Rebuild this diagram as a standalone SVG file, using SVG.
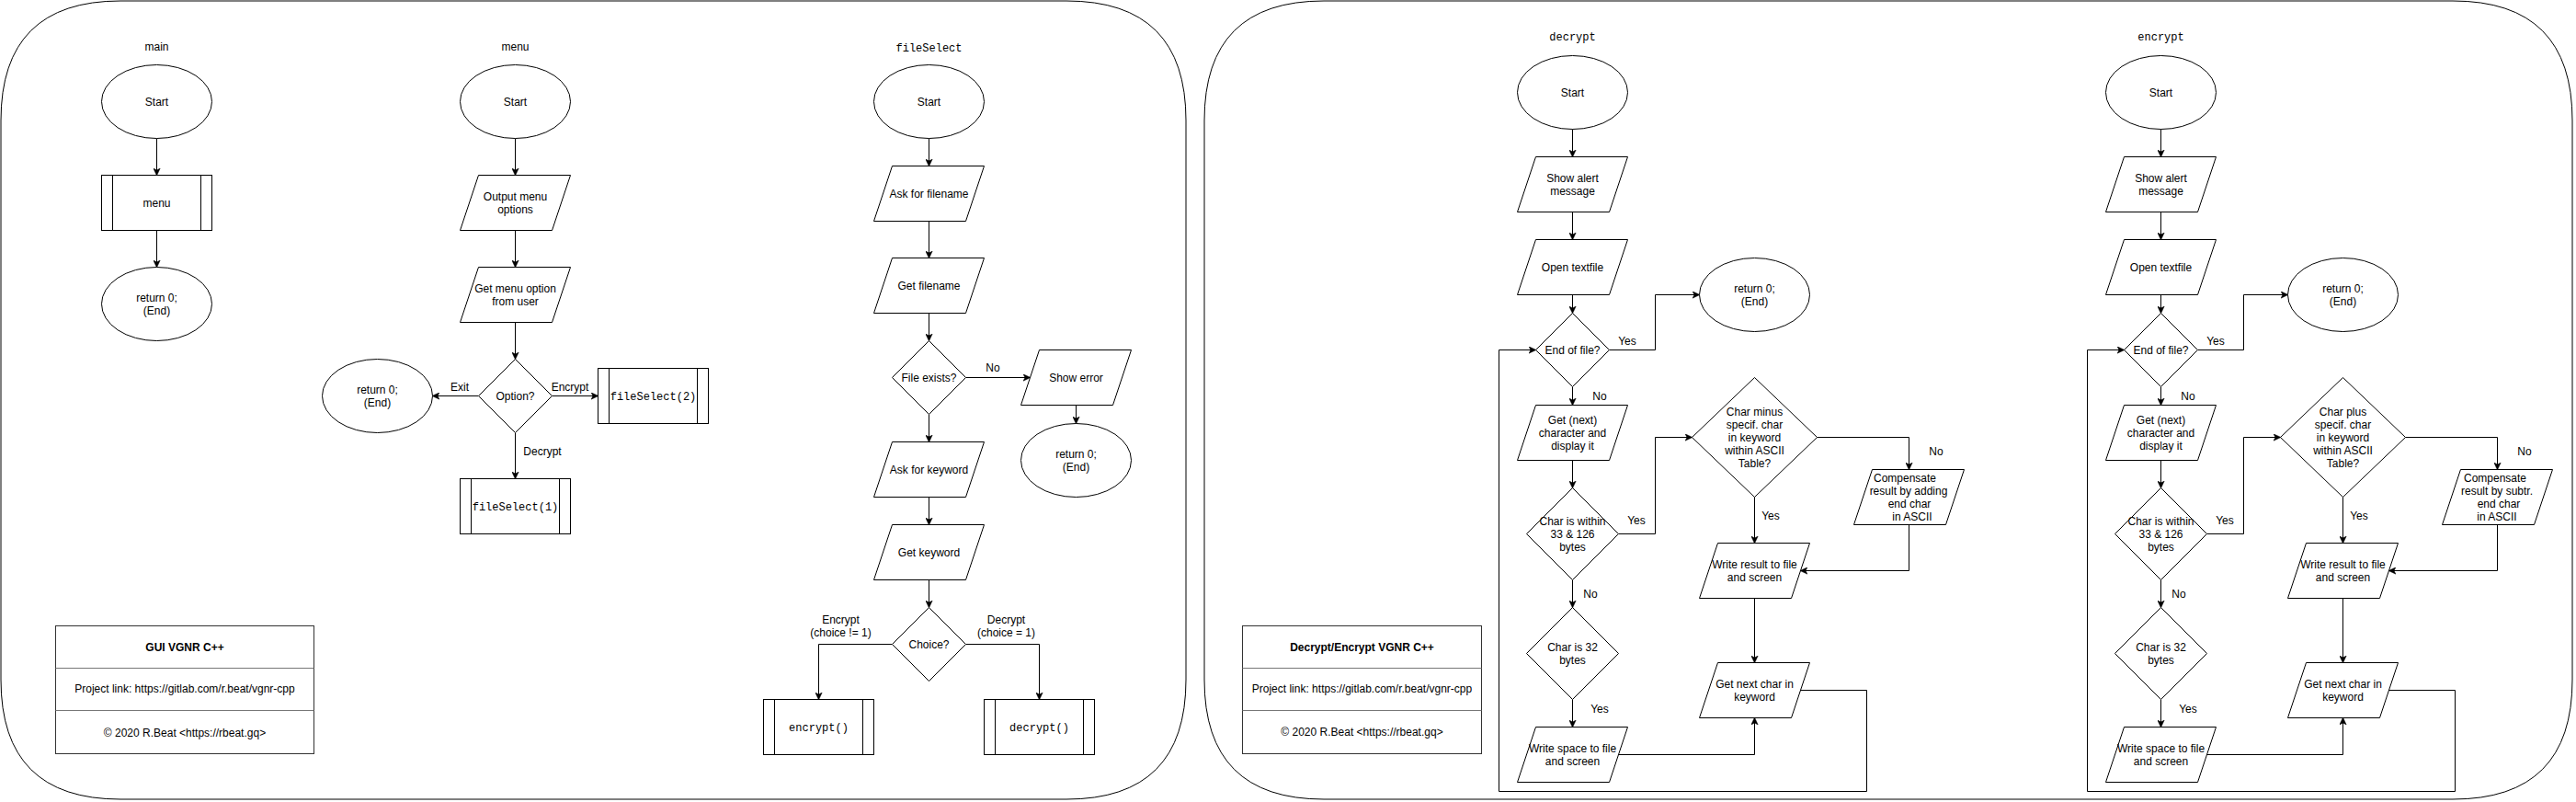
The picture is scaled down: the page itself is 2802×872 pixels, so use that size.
<svg xmlns="http://www.w3.org/2000/svg" width="2802" height="872" viewBox="0 0 2802 872">
<style>
.s{fill:#fff;stroke:#000;stroke-width:1}
.c{fill:none;stroke:#000;stroke-width:1}
.a{fill:none;stroke:#000;stroke-width:1;marker-end:url(#arr)}
.t{font-family:"Liberation Sans",Arial,Helvetica,sans-serif;font-size:12px;fill:#000;text-anchor:middle}
.m{font-family:"Liberation Mono","Courier New",monospace;font-size:12px;fill:#000;text-anchor:middle}
.b{font-weight:bold}
.d{fill:none;stroke:#777;stroke-width:1}
</style>
<defs>
<marker id="arr" markerUnits="userSpaceOnUse" viewBox="0 0 8 8" refX="7.5" refY="4" markerWidth="8" markerHeight="8" orient="auto">
<path d="M0,0.3 L8,4 L0,7.7 L2,4 Z" fill="#000" stroke="#000" stroke-width="0.5"/>
</marker>
</defs>
<rect x="0" y="0" width="2802" height="872" fill="#fff"/>

<g id="containers">
<path class="c" d="M131,1 H1160 Q1290,1 1290,131 V739 Q1290,869 1160,869 H131 Q1,869 1,739 V131 Q1,1 131,1 Z"/>
<path class="c" d="M1440,1 H2668 Q2798,1 2798,131 V739 Q2798,869 2668,869 H1440 Q1310,869 1310,739 V131 Q1310,1 1440,1 Z"/>
</g>

<g id="connectors">
<path class="a" d="M170.5,150.5V190.5"/>
<path class="a" d="M170.5,250.5V290.5"/>
<path class="a" d="M560.5,150.5V190.5"/>
<path class="a" d="M560.5,250.5V290.5"/>
<path class="a" d="M560.5,350.5V390.5"/>
<path class="a" d="M520.5,430.5H470.5"/>
<path class="a" d="M600.5,430.5H650.5"/>
<path class="a" d="M560.5,470.5V520.5"/>
<path class="a" d="M1010.5,150.5V180.5"/>
<path class="a" d="M1010.5,240.5V280.5"/>
<path class="a" d="M1010.5,340.5V370.5"/>
<path class="a" d="M1050.5,410.5H1120.5"/>
<path class="a" d="M1170.5,440.5V460.5"/>
<path class="a" d="M1010.5,450.5V480.5"/>
<path class="a" d="M1010.5,540.5V570.5"/>
<path class="a" d="M1010.5,630.5V660.5"/>
<path class="a" d="M970.5,700.5H890.5V760.5"/>
<path class="a" d="M1050.5,700.5H1130.5V760.5"/>
<path class="a" d="M1710.5,140.5V170.5"/>
<path class="a" d="M1710.5,230.5V260.5"/>
<path class="a" d="M1710.5,320.5V340.5"/>
<path class="a" d="M1750.5,380.5H1800.5V320.5H1848.5"/>
<path class="a" d="M1710.5,420.5V440.5"/>
<path class="a" d="M1710.5,500.5V530.5"/>
<path class="a" d="M1760.5,580.5H1800.5V475.5H1840.5"/>
<path class="a" d="M1976.5,475.5H2076.5V510.5"/>
<path class="a" d="M2076.5,570.5V620.5H1958.5"/>
<path class="a" d="M1908.5,540.5V590.5"/>
<path class="a" d="M1908.5,650.5V720.5"/>
<path class="a" d="M1958.5,750.5H2030.5V860.5H1630.5V380.5H1670.5"/>
<path class="a" d="M1710.5,630.5V660.5"/>
<path class="a" d="M1710.5,760.5V790.5"/>
<path class="a" d="M1760.5,820.5H1908.5V780.5"/>
<path class="a" d="M2350.5,140.5V170.5"/>
<path class="a" d="M2350.5,230.5V260.5"/>
<path class="a" d="M2350.5,320.5V340.5"/>
<path class="a" d="M2390.5,380.5H2440.5V320.5H2488.5"/>
<path class="a" d="M2350.5,420.5V440.5"/>
<path class="a" d="M2350.5,500.5V530.5"/>
<path class="a" d="M2400.5,580.5H2440.5V475.5H2480.5"/>
<path class="a" d="M2616.5,475.5H2716.5V510.5"/>
<path class="a" d="M2716.5,570.5V620.5H2598.5"/>
<path class="a" d="M2548.5,540.5V590.5"/>
<path class="a" d="M2548.5,650.5V720.5"/>
<path class="a" d="M2598.5,750.5H2670.5V860.5H2270.5V380.5H2310.5"/>
<path class="a" d="M2350.5,630.5V660.5"/>
<path class="a" d="M2350.5,760.5V790.5"/>
<path class="a" d="M2400.5,820.5H2548.5V780.5"/>
<g id="connector-labels">
<text class="t" x="500" y="425">Exit</text>
<text class="t" x="620" y="425">Encrypt</text>
<text class="t" x="590" y="495">Decrypt</text>
<text class="t" x="1080" y="404">No</text>
<text class="t" x="914.5" y="678">Encrypt</text>
<text class="t" x="914.5" y="692">(choice != 1)</text>
<text class="t" x="1094.5" y="678">Decrypt</text>
<text class="t" x="1094.5" y="692">(choice = 1)</text>
<text class="t" x="1770" y="375">Yes</text>
<text class="t" x="1740" y="435">No</text>
<text class="t" x="1780" y="570">Yes</text>
<text class="t" x="2106" y="495">No</text>
<text class="t" x="1926" y="565">Yes</text>
<text class="t" x="1730" y="650">No</text>
<text class="t" x="1740" y="775">Yes</text>
<text class="t" x="2410" y="375">Yes</text>
<text class="t" x="2380" y="435">No</text>
<text class="t" x="2420" y="570">Yes</text>
<text class="t" x="2746" y="495">No</text>
<text class="t" x="2566" y="565">Yes</text>
<text class="t" x="2370" y="650">No</text>
<text class="t" x="2380" y="775">Yes</text>
</g>
</g>

<!-- main -->
<g id="main-title"><text class="t" x="170.5" y="55">main</text></g>
<g id="main-start"><ellipse class="s" cx="170.5" cy="110.5" rx="60" ry="40"/><text class="t" x="170.5" y="114.5">Start</text></g>
<g id="main-menu"><rect class="s" x="110.5" y="190.5" width="120" height="60"/><path class="c" d="M122.5,190.5V250.5M218.5,190.5V250.5"/><text class="t" x="170.5" y="224.5">menu</text></g>
<g id="main-end"><ellipse class="s" cx="170.5" cy="330.5" rx="60" ry="40"/><text class="t"><tspan x="170.5" y="327.5">return 0;</tspan><tspan x="170.5" y="341.5">(End)</tspan></text></g>

<!-- menu -->
<g id="menu-title"><text class="t" x="560.5" y="55">menu</text></g>
<g id="menu-start"><ellipse class="s" cx="560.5" cy="110.5" rx="60" ry="40"/><text class="t" x="560.5" y="114.5">Start</text></g>
<g id="menu-output"><polygon class="s" points="520.5,190.5 620.5,190.5 600.5,250.5 500.5,250.5"/><text class="t"><tspan x="560.5" y="217.5">Output menu</tspan><tspan x="560.5" y="231.5">options</tspan></text></g>
<g id="menu-get"><polygon class="s" points="520.5,290.5 620.5,290.5 600.5,350.5 500.5,350.5"/><text class="t"><tspan x="560.5" y="317.5">Get menu option</tspan><tspan x="560.5" y="331.5">from user</tspan></text></g>
<g id="menu-option"><polygon class="s" points="560.5,390.5 600.5,430.5 560.5,470.5 520.5,430.5"/><text class="t" x="560.5" y="434.5">Option?</text></g>
<g id="menu-end"><ellipse class="s" cx="410.5" cy="430.5" rx="60" ry="40"/><text class="t"><tspan x="410.5" y="427.5">return 0;</tspan><tspan x="410.5" y="441.5">(End)</tspan></text></g>
<g id="menu-fs2"><rect class="s" x="650.5" y="400.5" width="120" height="60"/><path class="c" d="M662.5,400.5V460.5M758.5,400.5V460.5"/><text class="m" x="710.5" y="434.5">fileSelect(2)</text></g>
<g id="menu-fs1"><rect class="s" x="500.5" y="520.5" width="120" height="60"/><path class="c" d="M512.5,520.5V580.5M608.5,520.5V580.5"/><text class="m" x="560.5" y="554.5">fileSelect(1)</text></g>

<!-- fileSelect -->
<g id="fs-title"><text class="m" x="1010.5" y="55.5">fileSelect</text></g>
<g id="fs-start"><ellipse class="s" cx="1010.5" cy="110.5" rx="60" ry="40"/><text class="t" x="1010.5" y="114.5">Start</text></g>
<g id="fs-askfile"><polygon class="s" points="970.5,180.5 1070.5,180.5 1050.5,240.5 950.5,240.5"/><text class="t" x="1010.5" y="214.5">Ask for filename</text></g>
<g id="fs-getfile"><polygon class="s" points="970.5,280.5 1070.5,280.5 1050.5,340.5 950.5,340.5"/><text class="t" x="1010.5" y="314.5">Get filename</text></g>
<g id="fs-exists"><polygon class="s" points="1010.5,370.5 1050.5,410.5 1010.5,450.5 970.5,410.5"/><text class="t" x="1010.5" y="414.5">File exists?</text></g>
<g id="fs-error"><polygon class="s" points="1130.5,380.5 1230.5,380.5 1210.5,440.5 1110.5,440.5"/><text class="t" x="1170.5" y="414.5">Show error</text></g>
<g id="fs-end"><ellipse class="s" cx="1170.5" cy="500.5" rx="60" ry="40"/><text class="t"><tspan x="1170.5" y="497.5">return 0;</tspan><tspan x="1170.5" y="511.5">(End)</tspan></text></g>
<g id="fs-askkey"><polygon class="s" points="970.5,480.5 1070.5,480.5 1050.5,540.5 950.5,540.5"/><text class="t" x="1010.5" y="514.5">Ask for keyword</text></g>
<g id="fs-getkey"><polygon class="s" points="970.5,570.5 1070.5,570.5 1050.5,630.5 950.5,630.5"/><text class="t" x="1010.5" y="604.5">Get keyword</text></g>
<g id="fs-choice"><polygon class="s" points="1010.5,660.5 1050.5,700.5 1010.5,740.5 970.5,700.5"/><text class="t" x="1010.5" y="704.5">Choice?</text></g>
<g id="fs-encrypt"><rect class="s" x="830.5" y="760.5" width="120" height="60"/><path class="c" d="M842.5,760.5V820.5M938.5,760.5V820.5"/><text class="m" x="890.5" y="794.5">encrypt()</text></g>
<g id="fs-decrypt"><rect class="s" x="1070.5" y="760.5" width="120" height="60"/><path class="c" d="M1082.5,760.5V820.5M1178.5,760.5V820.5"/><text class="m" x="1130.5" y="794.5">decrypt()</text></g>

<!-- info left -->
<g id="info-gui"><rect x="60.5" y="680.5" width="281" height="139" fill="#fff" stroke="#333"/><path class="d" d="M60.5,726.5H341.5M60.5,772.5H341.5"/><text class="t b" x="201" y="708">GUI VGNR C++</text><text class="t" x="201" y="753">Project link: https://gitlab.com/r.beat/vgnr-cpp</text><text class="t" x="201" y="800.5">© 2020 R.Beat &lt;https://rbeat.gq&gt;</text></g>

<!-- decrypt -->
<g id="dec-title"><text class="m" x="1710.5" y="43.5">decrypt</text></g>
<g id="dec-start"><ellipse class="s" cx="1710.5" cy="100.5" rx="60" ry="40"/><text class="t" x="1710.5" y="104.5">Start</text></g>
<g id="dec-alert"><polygon class="s" points="1670.5,170.5 1770.5,170.5 1750.5,230.5 1650.5,230.5"/><text class="t"><tspan x="1710.5" y="197.5">Show alert</tspan><tspan x="1710.5" y="211.5">message</tspan></text></g>
<g id="dec-open"><polygon class="s" points="1670.5,260.5 1770.5,260.5 1750.5,320.5 1650.5,320.5"/><text class="t" x="1710.5" y="294.5">Open textfile</text></g>
<g id="dec-eof"><polygon class="s" points="1710.5,340.5 1750.5,380.5 1710.5,420.5 1670.5,380.5"/><text class="t" x="1710.5" y="384.5">End of file?</text></g>
<g id="dec-end"><ellipse class="s" cx="1908.5" cy="320.5" rx="60" ry="40"/><text class="t"><tspan x="1908.5" y="317.5">return 0;</tspan><tspan x="1908.5" y="331.5">(End)</tspan></text></g>
<g id="dec-getnext"><polygon class="s" points="1670.5,440.5 1770.5,440.5 1750.5,500.5 1650.5,500.5"/><text class="t"><tspan x="1710.5" y="460.5">Get (next)</tspan><tspan x="1710.5" y="474.5">character and</tspan><tspan x="1710.5" y="488.5">display it</tspan></text></g>
<g id="dec-within"><polygon class="s" points="1710.5,530.5 1760.5,580.5 1710.5,630.5 1660.5,580.5"/><text class="t"><tspan x="1710.5" y="570.5">Char is within</tspan><tspan x="1710.5" y="584.5">33 &amp; 126</tspan><tspan x="1710.5" y="598.5">bytes</tspan></text></g>
<g id="dec-minus"><polygon class="s" points="1908.5,410.5 1976.5,475.5 1908.5,540.5 1840.5,475.5"/><text class="t"><tspan x="1908.5" y="451.5">Char minus</tspan><tspan x="1908.5" y="465.5">specif. char</tspan><tspan x="1908.5" y="479.5">in keyword</tspan><tspan x="1908.5" y="493.5">within ASCII</tspan><tspan x="1908.5" y="507.5">Table?</tspan></text></g>
<g id="dec-comp"><polygon class="s" points="2036.5,510.5 2136.5,510.5 2116.5,570.5 2016.5,570.5"/><text class="t"><tspan x="2072" y="523.5">Compensate</tspan><tspan x="2076" y="537.5">result by adding</tspan><tspan x="2077" y="551.5">end char</tspan><tspan x="2080" y="565.5">in ASCII</tspan></text></g>
<g id="dec-writeres"><polygon class="s" points="1868.5,590.5 1968.5,590.5 1948.5,650.5 1848.5,650.5"/><text class="t"><tspan x="1908.5" y="617.5">Write result to file</tspan><tspan x="1908.5" y="631.5">and screen</tspan></text></g>
<g id="dec-nextkey"><polygon class="s" points="1868.5,720.5 1968.5,720.5 1948.5,780.5 1848.5,780.5"/><text class="t"><tspan x="1908.5" y="747.5">Get next char in</tspan><tspan x="1908.5" y="761.5">keyword</tspan></text></g>
<g id="dec-is32"><polygon class="s" points="1710.5,660.5 1760.5,710.5 1710.5,760.5 1660.5,710.5"/><text class="t"><tspan x="1710.5" y="707.5">Char is 32</tspan><tspan x="1710.5" y="721.5">bytes</tspan></text></g>
<g id="dec-writespace"><polygon class="s" points="1670.5,790.5 1770.5,790.5 1750.5,850.5 1650.5,850.5"/><text class="t"><tspan x="1710.5" y="817.5">Write space to file</tspan><tspan x="1710.5" y="831.5">and screen</tspan></text></g>

<!-- info right -->
<g id="info-dec"><rect x="1351.5" y="680.5" width="260" height="139" fill="#fff" stroke="#333"/><path class="d" d="M1351.5,726.5H1611.5M1351.5,772.5H1611.5"/><text class="t b" x="1481.5" y="707.5">Decrypt/Encrypt VGNR C++</text><text class="t" x="1481.5" y="753">Project link: https://gitlab.com/r.beat/vgnr-cpp</text><text class="t" x="1481.5" y="800">© 2020 R.Beat &lt;https://rbeat.gq&gt;</text></g>

<!-- encrypt -->
<g id="enc-title"><text class="m" x="2350.5" y="43.5">encrypt</text></g>
<g id="enc-start"><ellipse class="s" cx="2350.5" cy="100.5" rx="60" ry="40"/><text class="t" x="2350.5" y="104.5">Start</text></g>
<g id="enc-alert"><polygon class="s" points="2310.5,170.5 2410.5,170.5 2390.5,230.5 2290.5,230.5"/><text class="t"><tspan x="2350.5" y="197.5">Show alert</tspan><tspan x="2350.5" y="211.5">message</tspan></text></g>
<g id="enc-open"><polygon class="s" points="2310.5,260.5 2410.5,260.5 2390.5,320.5 2290.5,320.5"/><text class="t" x="2350.5" y="294.5">Open textfile</text></g>
<g id="enc-eof"><polygon class="s" points="2350.5,340.5 2390.5,380.5 2350.5,420.5 2310.5,380.5"/><text class="t" x="2350.5" y="384.5">End of file?</text></g>
<g id="enc-end"><ellipse class="s" cx="2548.5" cy="320.5" rx="60" ry="40"/><text class="t"><tspan x="2548.5" y="317.5">return 0;</tspan><tspan x="2548.5" y="331.5">(End)</tspan></text></g>
<g id="enc-getnext"><polygon class="s" points="2310.5,440.5 2410.5,440.5 2390.5,500.5 2290.5,500.5"/><text class="t"><tspan x="2350.5" y="460.5">Get (next)</tspan><tspan x="2350.5" y="474.5">character and</tspan><tspan x="2350.5" y="488.5">display it</tspan></text></g>
<g id="enc-within"><polygon class="s" points="2350.5,530.5 2400.5,580.5 2350.5,630.5 2300.5,580.5"/><text class="t"><tspan x="2350.5" y="570.5">Char is within</tspan><tspan x="2350.5" y="584.5">33 &amp; 126</tspan><tspan x="2350.5" y="598.5">bytes</tspan></text></g>
<g id="enc-plus"><polygon class="s" points="2548.5,410.5 2616.5,475.5 2548.5,540.5 2480.5,475.5"/><text class="t"><tspan x="2548.5" y="451.5">Char plus</tspan><tspan x="2548.5" y="465.5">specif. char</tspan><tspan x="2548.5" y="479.5">in keyword</tspan><tspan x="2548.5" y="493.5">within ASCII</tspan><tspan x="2548.5" y="507.5">Table?</tspan></text></g>
<g id="enc-comp"><polygon class="s" points="2676.5,510.5 2776.5,510.5 2756.5,570.5 2656.5,570.5"/><text class="t"><tspan x="2714" y="523.5">Compensate</tspan><tspan x="2716" y="537.5">result by subtr.</tspan><tspan x="2718" y="551.5">end char</tspan><tspan x="2716" y="565.5">in ASCII</tspan></text></g>
<g id="enc-writeres"><polygon class="s" points="2508.5,590.5 2608.5,590.5 2588.5,650.5 2488.5,650.5"/><text class="t"><tspan x="2548.5" y="617.5">Write result to file</tspan><tspan x="2548.5" y="631.5">and screen</tspan></text></g>
<g id="enc-nextkey"><polygon class="s" points="2508.5,720.5 2608.5,720.5 2588.5,780.5 2488.5,780.5"/><text class="t"><tspan x="2548.5" y="747.5">Get next char in</tspan><tspan x="2548.5" y="761.5">keyword</tspan></text></g>
<g id="enc-is32"><polygon class="s" points="2350.5,660.5 2400.5,710.5 2350.5,760.5 2300.5,710.5"/><text class="t"><tspan x="2350.5" y="707.5">Char is 32</tspan><tspan x="2350.5" y="721.5">bytes</tspan></text></g>
<g id="enc-writespace"><polygon class="s" points="2310.5,790.5 2410.5,790.5 2390.5,850.5 2290.5,850.5"/><text class="t"><tspan x="2350.5" y="817.5">Write space to file</tspan><tspan x="2350.5" y="831.5">and screen</tspan></text></g>
</svg>
